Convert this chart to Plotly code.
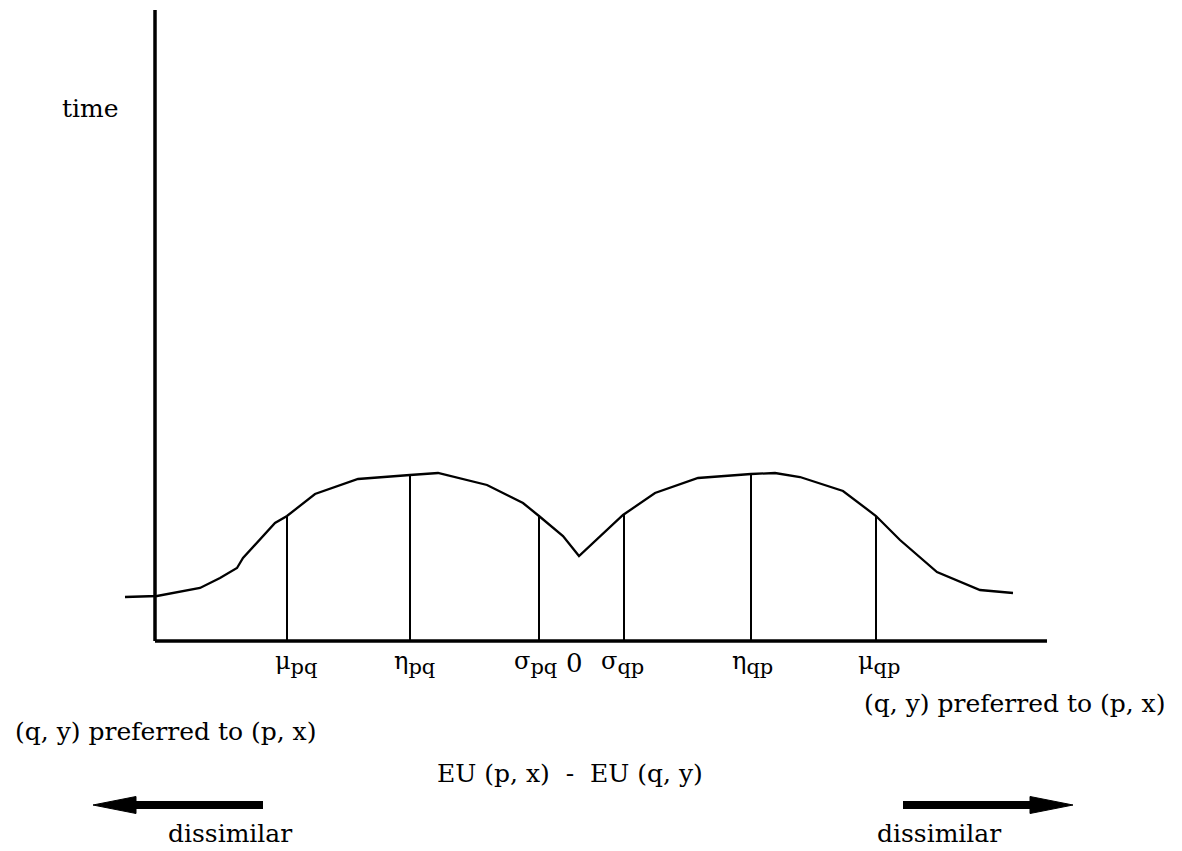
import numpy as np
import plotly.graph_objects as go

# ---- data (EU difference vs. time) ----
eu_diff = [-454, -422, -379, -359, -342, -336, -304, -292, -264, -221, -169, -141,
           -92, -56, -40, -16, 0, 44, 76, 119, 172, 196, 221, 264, 297, 321, 358, 401, 434]
time_val = [44, 45, 53, 63, 73, 83, 118, 125, 147, 162, 166, 168,
            156, 138, 125, 105, 85, 126, 148, 163, 167, 168, 164, 150, 125, 101, 69, 51, 48]

threshold_x = [-292, -169, -40, 45, 172, 297]
threshold_sym = ["μ", "η", "σ", "σ", "η", "μ"]
threshold_sub = ["pq", "pq", "pq", "qp", "qp", "qp"]

FONT = "DejaVu Serif"
BLACK = "#000000"

fig = go.Figure()

# main curve
fig.add_trace(go.Scatter(x=eu_diff, y=time_val, mode="lines",
                         line=dict(color=BLACK, width=2.3), hoverinfo="skip",
                         showlegend=False))

# drop lines from the curve to the axis
tops = np.interp(threshold_x, eu_diff, time_val)
for xv, top in zip(threshold_x, tops):
    fig.add_trace(go.Scatter(x=[xv, xv], y=[0, top], mode="lines",
                             line=dict(color=BLACK, width=2), hoverinfo="skip",
                             showlegend=False))

# axes (drawn in data coordinates)
ORIGIN_X = -424
Y_TOP = 631
X_END = 468
shapes = [
    dict(type="line", x0=ORIGIN_X, y0=0, x1=ORIGIN_X, y1=Y_TOP,
         line=dict(color=BLACK, width=3.5)),
    dict(type="line", x0=ORIGIN_X, y0=0, x1=X_END, y1=0,
         line=dict(color=BLACK, width=3.5)),
]

# arrows ("dissimilar")
AY = -164
shapes.append(dict(type="line", x0=-316, y0=AY, x1=-446, y1=AY,
                   line=dict(color=BLACK, width=8)))
shapes.append(dict(type="path", path=f"M -486,{AY} L -443,{AY+8.5} L -443,{AY-8.5} Z",
                   fillcolor=BLACK, line=dict(color=BLACK, width=1)))
shapes.append(dict(type="line", x0=324, y0=AY, x1=454, y1=AY,
                   line=dict(color=BLACK, width=8)))
shapes.append(dict(type="path", path=f"M 494,{AY} L 451,{AY+8.5} L 451,{AY-8.5} Z",
                   fillcolor=BLACK, line=dict(color=BLACK, width=1)))

annotations = []
# threshold labels
label_shift = [9, 4, -4, -2, 1, 3]
for xv, sym, sub, sh in zip(threshold_x, threshold_sym, threshold_sub, label_shift):
    annotations.append(dict(
        x=xv, y=0, text=f"{sym}<sub><span style='font-size:21px'>{sub}</span></sub>",
        showarrow=False, xanchor="center", yanchor="top", yshift=-4, xshift=sh,
        font=dict(family=FONT, size=24, color=BLACK)))
annotations.append(dict(x=-5, y=-22, text="0", showarrow=False,
                        xanchor="center", yanchor="middle",
                        font=dict(family=FONT, size=26, color=BLACK)))

TEXT_FONT = dict(family=FONT, size=25, color=BLACK)
annotations += [
    dict(x=-458, y=533, text="time", showarrow=False, xanchor="right",
         yanchor="middle", font=TEXT_FONT),
    dict(x=-566, y=-90, text="(q, y) preferred to (p, x)", showarrow=False,
         xanchor="left", yanchor="middle", font=TEXT_FONT),
    dict(x=283, y=-62, text="(q, y) preferred to (p, x)", showarrow=False,
         xanchor="left", yanchor="middle", font=TEXT_FONT),
    dict(x=-9, y=-132, text="EU (p, x)  -  EU (q, y)", showarrow=False,
         xanchor="center", yanchor="middle", font=TEXT_FONT),
    dict(x=-349, y=-192, text="dissimilar", showarrow=False,
         xanchor="center", yanchor="middle", font=TEXT_FONT),
    dict(x=360, y=-192, text="dissimilar", showarrow=False,
         xanchor="center", yanchor="middle", font=TEXT_FONT),
]

# page body has an 8px margin: figure covers screen pixels 8..1182 / 8..851
fig.update_layout(
    width=1174, height=843,
    margin=dict(l=0, r=0, t=0, b=0),
    paper_bgcolor="white", plot_bgcolor="white",
    xaxis=dict(range=[-571, 603], visible=False, fixedrange=True),
    yaxis=dict(range=[-210, 633], visible=False, fixedrange=True),
    shapes=shapes, annotations=annotations,
    showlegend=False,
)

fig.write_html("out.html")
